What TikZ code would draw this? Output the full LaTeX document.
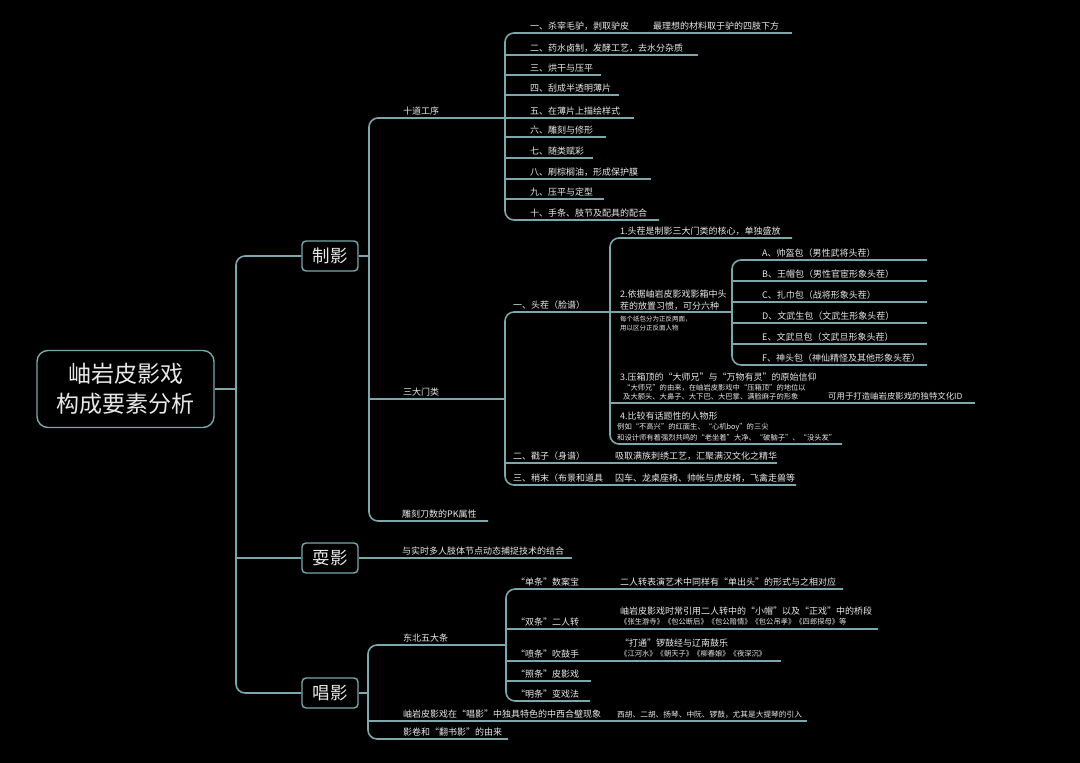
\documentclass[tikz,border=0pt]{standalone}
\usepackage{fontspec}
\setmainfont{Noto Sans CJK SC}
\definecolor{lncol}{RGB}{122,168,172}
\definecolor{txcol}{RGB}{232,232,232}
\tikzset{
 lnk/.style={draw=lncol, line width=1.6pt, rounded corners=9pt},
 tn/.style={text=txcol, inner sep=0pt, anchor=base west, font=\fontsize{9}{11}\selectfont},
 tsm/.style={tn, font=\fontsize{7.3}{9}\selectfont},
 tmd/.style={tn, font=\fontsize{8.4}{10}\selectfont},
 txs/.style={tn, font=\fontsize{6.5}{8}\selectfont},
 mainbox/.style={draw=lncol, line width=1.4pt, rounded corners=4pt, minimum width=56pt, minimum height=30pt, text=txcol, font=\fontsize{17.5}{20}\selectfont, inner sep=0pt},
 rootbox/.style={draw=lncol, line width=1.4pt, rounded corners=11pt, minimum width=177pt, minimum height=77pt, text=txcol, font=\fontsize{23}{30}\selectfont, align=center, inner sep=0pt}
}
\newcommand\uline[4]{\coordinate (#1s) at (#2,#3); \coordinate (#1e) at (#4,#3);}
\begin{document}
\begin{tikzpicture}[x=1pt,y=-1pt]
\fill[black] (0,0) rectangle (1080,763);
\useasboundingbox (0,0) rectangle (1080,763);

% root and main branches
\node[rootbox] (root) at (125.5,389) {岫岩皮影戏\\构成要素分析};
\node[mainbox] (zy) at (330,256) {制影};
\node[mainbox] (sy) at (330,558) {耍影};
\node[mainbox] (cy) at (330,693) {唱影};
\coordinate (trunk) at (236,389);
\draw[lnk] (root.east) -- (trunk);
\draw[lnk] (zy.west) -| (trunk) |- (cy.west);
\draw[lnk] (trunk |- sy.west) -- (sy.west);

% ===== 制影 =====
\coordinate (zyf) at (369,256);
\draw[lnk] (zy.east) -- (zyf);
\uline{sd}{369}{118}{505}
\uline{sm}{369}{399}{505}
\uline{dk}{369}{521}{488}
\draw[lnk] (sde) -- (sds) -- (dks) -- (dke);
\draw[lnk] (sms) -- (sme);
\node[tn] (sdt) at (403,114.5) {十道工序};
\node[tn] (smt) at (403,395.5) {三大门类};
\node[tn] (dkt) at (402,517.5) {雕刻刀数的PK属性};

% 十道工序 children
\uline{ca}{505}{33}{645}
\uline{cb}{505}{55}{698}
\uline{cc}{505}{75}{601}
\uline{cd}{505}{95}{619}
\uline{ce}{505}{118}{634}
\uline{cf}{505}{137}{606}
\uline{cg}{505}{158}{593}
\uline{ch}{505}{179}{651}
\uline{ci}{505}{199}{604}
\uline{cj}{505}{220}{659}
\uline{lx}{645}{33}{792}
\draw[lnk] (cae) -- (cas) -- (cjs) -- (cje);
\foreach \k in {cb,cc,cd,ce,cf,cg,ch,ci} {\draw[lnk] (\k s) -- (\k e);}
\draw[lnk] (lxs) -- (lxe);
\node[tn] (cat) at (530,29.5) {一、杀宰毛驴，剥取驴皮};
\node[tn] (lxt) at (653,29.5) {最理想的材料取于驴的四肢下方};
\node[tn] (cbt) at (530,51.5) {二、药水卤制，发酵工艺，去水分杂质};
\node[tn] (cct) at (530,71.5) {三、烘干与压平};
\node[tn] (cdt) at (530,91.5) {四、刮成半透明薄片};
\node[tn] (cet) at (530,114.5) {五、在薄片上描绘样式};
\node[tn] (cft) at (530,133.5) {六、雕刻与修形};
\node[tn] (cgt) at (530,154.5) {七、随类赋彩};
\node[tn] (cht) at (530,175.5) {八、刷棕榈油，形成保护膜};
\node[tn] (cit) at (530,195.5) {九、压平与定型};
\node[tn] (cjt) at (530,216.5) {十、手条、肢节及配具的配合};

% 三大门类 children
\uline{tc}{505}{312}{610}
\uline{cz}{505}{463}{777}
\uline{sx}{505}{485}{796}
\draw[lnk] (tce) -- (tcs) -- (sxs) -- (sxe);
\draw[lnk] (czs) -- (cze);
\node[tn] (tct) at (513,308.5) {一、头茬（脸谱）};
\node[tn] (czt) at (513,459.5) {二、戳子（身谱）};
\node[tn] (czc) at (615,459.5) {吸取满族刺绣工艺，汇聚满汉文化之精华};
\node[tn] (sxt) at (513,481.5) {三、稍末（布景和道具};
\node[tn] (sxc) at (615,481.5) {囚车、龙桌座椅、帅帐与虎皮椅，飞禽走兽等};

% 头茬 children
\uline{ta}{610}{238}{792}
\uline{tb}{610}{312}{732}
\uline{tg}{610}{403}{975}
\uline{td}{610}{444}{842}
\draw[lnk] (tae) -- (tas) -- (tds) -- (tde);
\draw[lnk] (tbs) -- (tbe);
\draw[lnk] (tgs) -- (tge);
\node[tn] (tat) at (620,234.5) {1.头茬是制影三大门类的核心，单独盛放};
\node[tn] (tbt1) at (620,297) {2.依据岫岩皮影戏影箱中头};
\node[tn] (tbt2) at (620,309) {茬的放置习惯，可分六种};
\node[txs] (tbn1) at (620,321.5) {每个纸包分为正反两面，};
\node[txs] (tbn2) at (620,330.5) {用以区分正反面人物};
\node[tn] (tgt) at (620,380) {3.压箱顶的“大师兄”与“万物有灵”的原始信仰};
\node[tsm] (tgn1) at (623,390.5) {“大师兄”的由来，在岫岩皮影戏中“压箱顶”的地位以};
\node[tsm] (tgn2) at (623,399.5) {及大额头、大鼻子、大下巴、大巴掌、满脸麻子的形象};
\node[tmd] (tgc) at (828,399.5) {可用于打造岫岩皮影戏的独特文化ID};
\node[tn] (tdt) at (620,419) {4.比较有话题性的人物形};
\node[tsm] (tdn1) at (617,429.5) {例如“不高兴”的红面生、“心机boy”的三尖};
\node[tsm] (tdn2) at (617,440.5) {和设计师有着强烈共鸣的“老坐着”大净、“破脑子”、“没头发”};

% six kinds
\uline{ka}{732}{260}{927}
\uline{kb}{732}{281}{927}
\uline{kc}{732}{302}{927}
\uline{kd}{732}{323}{927}
\uline{ke}{732}{344}{927}
\uline{kf}{732}{365}{927}
\draw[lnk] (kae) -- (kas) -- (kfs) -- (kfe);
\foreach \k in {kb,kc,kd,ke} {\draw[lnk] (\k s) -- (\k e);}
\node[tn] (kat) at (762,256.5) {A、帅盔包（男性武将头茬）};
\node[tn] (kbt) at (762,277.5) {B、王帽包（男性官宦形象头茬）};
\node[tn] (kct) at (762,298.5) {C、扎巾包（战将形象头茬）};
\node[tn] (kdt) at (762,319.5) {D、文武生包（文武生形象头茬）};
\node[tn] (ket) at (762,340.5) {E、文武旦包（文武旦形象头茬）};
\node[tn] (kft) at (762,361.5) {F、神头包（神仙精怪及其他形象头茬）};

% ===== 耍影 =====
\coordinate (sye) at (572,558);
\draw[lnk] (sy.east) -- (sye);
\node[tn] (syt) at (402,554.5) {与实时多人肢体节点动态捕捉技术的结合};

% ===== 唱影 =====
\coordinate (cyf) at (368,693);
\draw[lnk] (cy.east) -- (cyf);
\uline{db}{368}{645}{506}
\uline{zx}{368}{721}{807}
\uline{yj}{368}{739}{508}
\draw[lnk] (dbe) -- (dbs) -- (yjs) -- (yje);
\draw[lnk] (zxs) -- (zxe);
\node[tn] (dbt) at (403,641.5) {东北五大条};
\node[tn] (zxt) at (403,717.5) {岫岩皮影戏在“唱影”中独具特色的中西合璧现象};
\node[tn, font=\fontsize{7.7}{9}\selectfont] (zxc) at (617,717.5) {西胡、二胡、扬琴、中阮、锣鼓，尤其是大提琴的引入};
\node[tn] (yjt) at (403,735.5) {影卷和“翻书影”的由来};

\uline{da}{506}{589}{843}
\uline{dd}{506}{629}{878}
\uline{dp}{506}{661}{781}
\uline{dz}{506}{681}{591}
\uline{dm}{506}{701}{590}
\draw[lnk] (dae) -- (das) -- (dms) -- (dme);
\foreach \k in {dd,dp,dz} {\draw[lnk] (\k s) -- (\k e);}
\node[tn] (dat) at (516,585.5) {“单条”数案宝};
\node[tn] (dac) at (620,585.5) {二人转表演艺术中同样有“单出头”的形式与之相对应};
\node[tn] (ddt) at (516,625.5) {“双条”二人转};
\node[tn] (ddc1) at (620,614) {岫岩皮影戏时常引用二人转中的“小帽”以及“正戏”中的桥段};
\node[tsm] (ddc2) at (620,624.5) {《张生游寺》《包公断后》《包公赔情》《包公吊孝》《四郎探母》等};
\node[tn] (dpt) at (516,657.5) {“喷条”吹鼓手};
\node[tn] (dpc1) at (620,646) {“打通”锣鼓经与辽南鼓乐};
\node[tsm] (dpc2) at (620,656.5) {《江河水》《朝天子》《柳春娘》《夜深沉》};
\node[tn] (dzt) at (516,677.5) {“照条”皮影戏};
\node[tn] (dmt) at (516,697.5) {“明条”变戏法};
\end{tikzpicture}
\end{document}
